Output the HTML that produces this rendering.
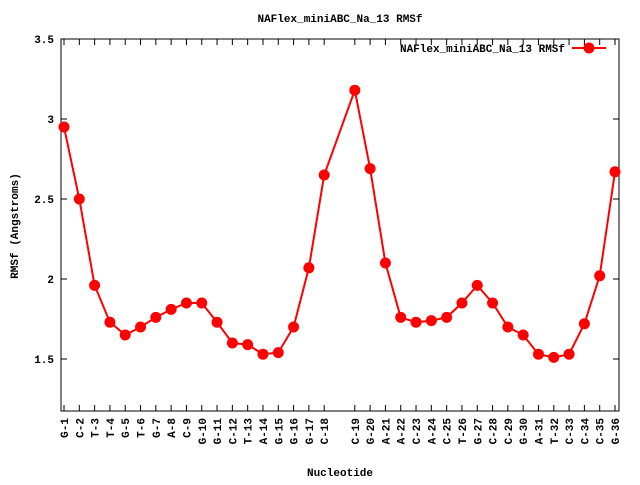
<!DOCTYPE html>
<html><head><meta charset="utf-8"><style>
body{margin:0;background:#fff}
svg text{font-family:"Liberation Mono",monospace;font-weight:bold;font-size:11px;fill:#000}
</style></head><body>
<svg id="chart" width="640" height="480">
<rect x="0" y="0" width="640" height="480" fill="#fff"/>
<text x="340" y="22" text-anchor="middle">NAFlex_miniABC_Na_13 RMSf</text>
<text transform="translate(18,226) rotate(-90)" text-anchor="middle">RMSf (Angstroms)</text>
<text x="340" y="476" text-anchor="middle">Nucleotide</text>
<g id="axes"></g>
<g id="series"></g>
<g>
<text x="565" y="52" text-anchor="end">NAFlex_miniABC_Na_13 RMSf</text>
<line x1="572" y1="48" x2="606" y2="48" stroke="#f00" stroke-width="2"/>
<circle cx="589" cy="48" r="5.5" fill="#f00"/>
</g>
</svg>
<script>
const categories=["G-1","C-2","T-3","T-4","G-5","T-6","G-7","A-8","C-9","G-10","G-11","C-12","T-13","A-14","G-15","G-16","G-17","C-18","C-19","G-20","A-21","A-22","C-23","A-24","C-25","T-26","G-27","C-28","C-29","G-30","A-31","T-32","C-33","C-34","C-35","G-36"];
const positions=[1,2,3,4,5,6,7,8,9,10,11,12,13,14,15,16,17,18,20,21,22,23,24,25,26,27,28,29,30,31,32,33,34,35,36,37];
const rmsf=[2.95,2.50,1.96,1.73,1.65,1.70,1.76,1.81,1.85,1.85,1.73,1.60,1.59,1.53,1.54,1.70,2.07,2.65,3.18,2.69,2.10,1.76,1.73,1.74,1.76,1.85,1.96,1.85,1.70,1.65,1.53,1.51,1.53,1.72,2.02,2.67];
const yTicks=[1.5,2,2.5,3,3.5];
const yTickLabels=["1.5","2","2.5","3","3.5"];
const L=61,R=619,T=39,B=411;
const xs=p=>64+(p-1)*(615-64)/36;
const ys=v=>39+(3.5-v)*160;
const NS="http://www.w3.org/2000/svg";
const ax=document.getElementById('axes'),se=document.getElementById('series');
function mk(tag,at,parent){const e=document.createElementNS(NS,tag);for(const k in at)e.setAttribute(k,at[k]);parent.appendChild(e);return e;}
const frame=mk('rect',{x:L,y:T,width:R-L,height:B-T,fill:'none',stroke:'#000','stroke-width':1},ax);


yTicks.forEach((v,i)=>{const y=ys(v);
mk('line',{x1:L,y1:y,x2:L+6,y2:y,stroke:'#000'},ax);
mk('line',{x1:R,y1:y,x2:R-6,y2:y,stroke:'#000'},ax);
const t=mk('text',{x:L-7,y:y+4,'text-anchor':'end'},ax);t.textContent=yTickLabels[i];

});
categories.forEach((c,i)=>{const x=xs(positions[i]);
mk('line',{x1:x,y1:B,x2:x,y2:B-6,stroke:'#000'},ax);
mk('line',{x1:x,y1:T,x2:x,y2:T+6,stroke:'#000'},ax);
const t=mk('text',{transform:`translate(${x+4},418) rotate(-90)`,'text-anchor':'end'},ax);t.textContent=c;

});
const pts=rmsf.map((v,i)=>xs(positions[i])+','+ys(v)).join(' ');
const line=mk('polyline',{points:pts,fill:'none',stroke:'#f00','stroke-width':2},se);


rmsf.forEach((v,i)=>{const c=mk('circle',{cx:xs(positions[i]),cy:ys(v),r:5.5,fill:'#f00'},se);

});
</script>
</body></html>
